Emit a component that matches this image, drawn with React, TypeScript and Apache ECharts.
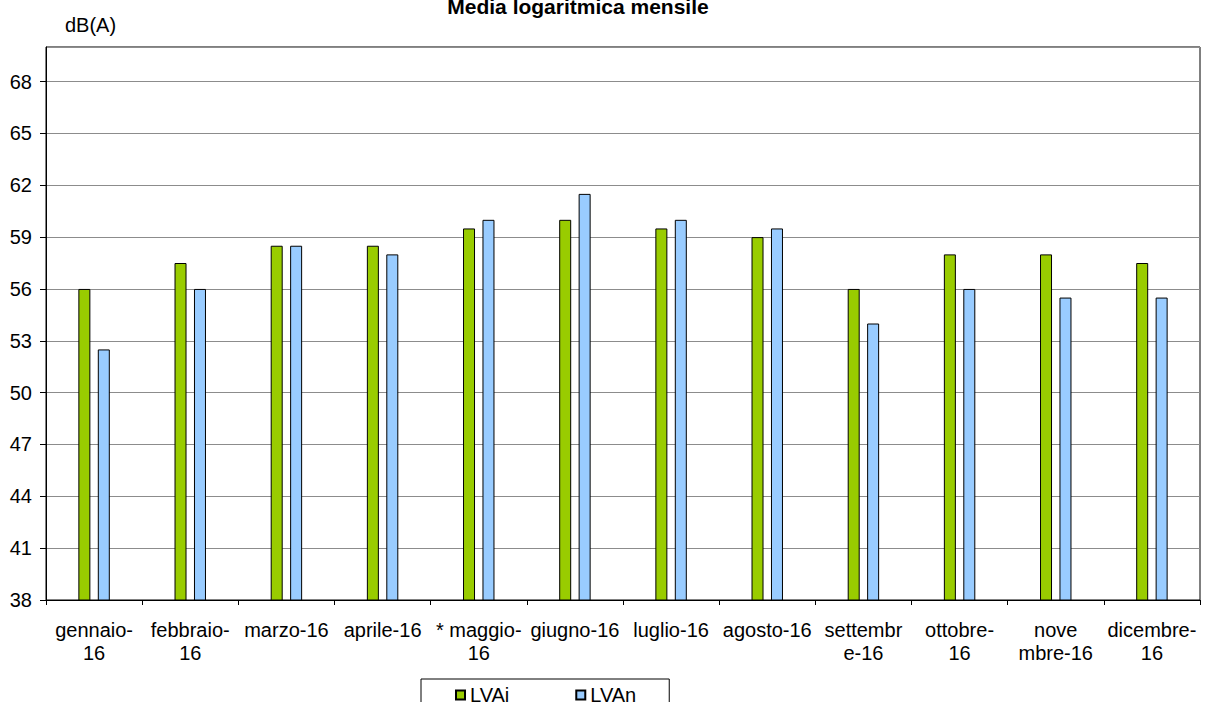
import React, { useEffect, useRef } from "react";
import * as echarts from "echarts";

const categories = [
  "gennaio-\n16",
  "febbraio-\n16",
  "marzo-16",
  "aprile-16",
  "* maggio-\n16",
  "giugno-16",
  "luglio-16",
  "agosto-16",
  "settembr\ne-16",
  "ottobre-\n16",
  "nove\nmbre-16",
  "dicembre-\n16",
];
const lvaj = [56, 57.5, 58.5, 58.5, 59.5, 60, 59.5, 59, 56, 58, 58, 57.5];
const lvan = [52.5, 56, 58.5, 58, 60, 61.5, 60, 59.5, 54, 56, 55.5, 55.5];
const seriesNames = ["LVAj", "LVAn"];
const titleText = "Media logaritmica mensile";
const unitText = "dB(A)";

const FONT = "'Liberation Sans', Arial, Helvetica, sans-serif";

export default function App() {
  const ref = useRef<HTMLDivElement>(null);
  useEffect(() => {
    if (!ref.current) return;
    const chart = echarts.init(ref.current, null, { renderer: "svg" });
    chart.setOption({
      animation: false,
      backgroundColor: "#ffffff",
      textStyle: { fontFamily: FONT },
      graphic: [
        {
          type: "text",
          x: 578,
          y: 6,
          style: {
            text: titleText,
            font: `bold 21px ${FONT}`,
            fill: "#000",
            textAlign: "center",
            textVerticalAlign: "middle",
          },
        },
        {
          type: "text",
          x: 65,
          y: 25,
          style: {
            text: unitText,
            font: `20px ${FONT}`,
            fill: "#000",
            textAlign: "left",
            textVerticalAlign: "middle",
          },
        },
      ],
      legend: {
        data: seriesNames,
        left: 421,
        top: 679,
        orient: "horizontal",
        padding: [6, 33, 12, 34],
        itemGap: 66,
        itemWidth: 9,
        itemHeight: 9,
        itemTextGap: 1,
        borderColor: "#000",
        borderWidth: 1,
        icon: "rect",
        textStyle: { fontSize: 20, color: "#000", fontFamily: FONT },
      },
      grid: {
        left: 46,
        right: 8,
        top: 47,
        bottom: 102,
        show: true,
        borderColor: "#000",
        borderWidth: 1,
        containLabel: false,
      },
      xAxis: {
        type: "category",
        data: categories,
        boundaryGap: true,
        axisLine: { show: true, lineStyle: { color: "#000", width: 1 } },
        axisTick: { show: true, alignWithLabel: false, length: 5, lineStyle: { color: "#000" } },
        axisLabel: {
          interval: 0,
          fontSize: 20,
          lineHeight: 23,
          color: "#000",
          margin: 18,
          fontFamily: FONT,
        },
        splitLine: { show: false },
      },
      yAxis: {
        type: "value",
        min: 38,
        max: 70,
        interval: 3,
        axisLine: { show: true, lineStyle: { color: "#000", width: 1 } },
        axisTick: { show: true, length: 6, lineStyle: { color: "#000" } },
        axisLabel: {
          fontSize: 20,
          color: "#000",
          margin: 14,
          showMaxLabel: false,
          fontFamily: FONT,
        },
        splitLine: { show: true, lineStyle: { color: "#8c8c8c", width: 1 } },
      },
      series: [
        {
          name: seriesNames[0],
          type: "bar",
          data: lvaj,
          barWidth: 12,
          barGap: "62%",
          itemStyle: { color: "#99cc00", borderColor: "#000", borderWidth: 1 },
        },
        {
          name: seriesNames[1],
          type: "bar",
          data: lvan,
          barWidth: 12,
          barGap: "62%",
          itemStyle: { color: "#99ccff", borderColor: "#000", borderWidth: 1 },
        },
      ],
    });
    return () => chart.dispose();
  }, []);
  return (
    <div
      ref={ref}
      style={{ position: "fixed", left: 0, top: 0, width: 1208, height: 702 }}
    />
  );
}
